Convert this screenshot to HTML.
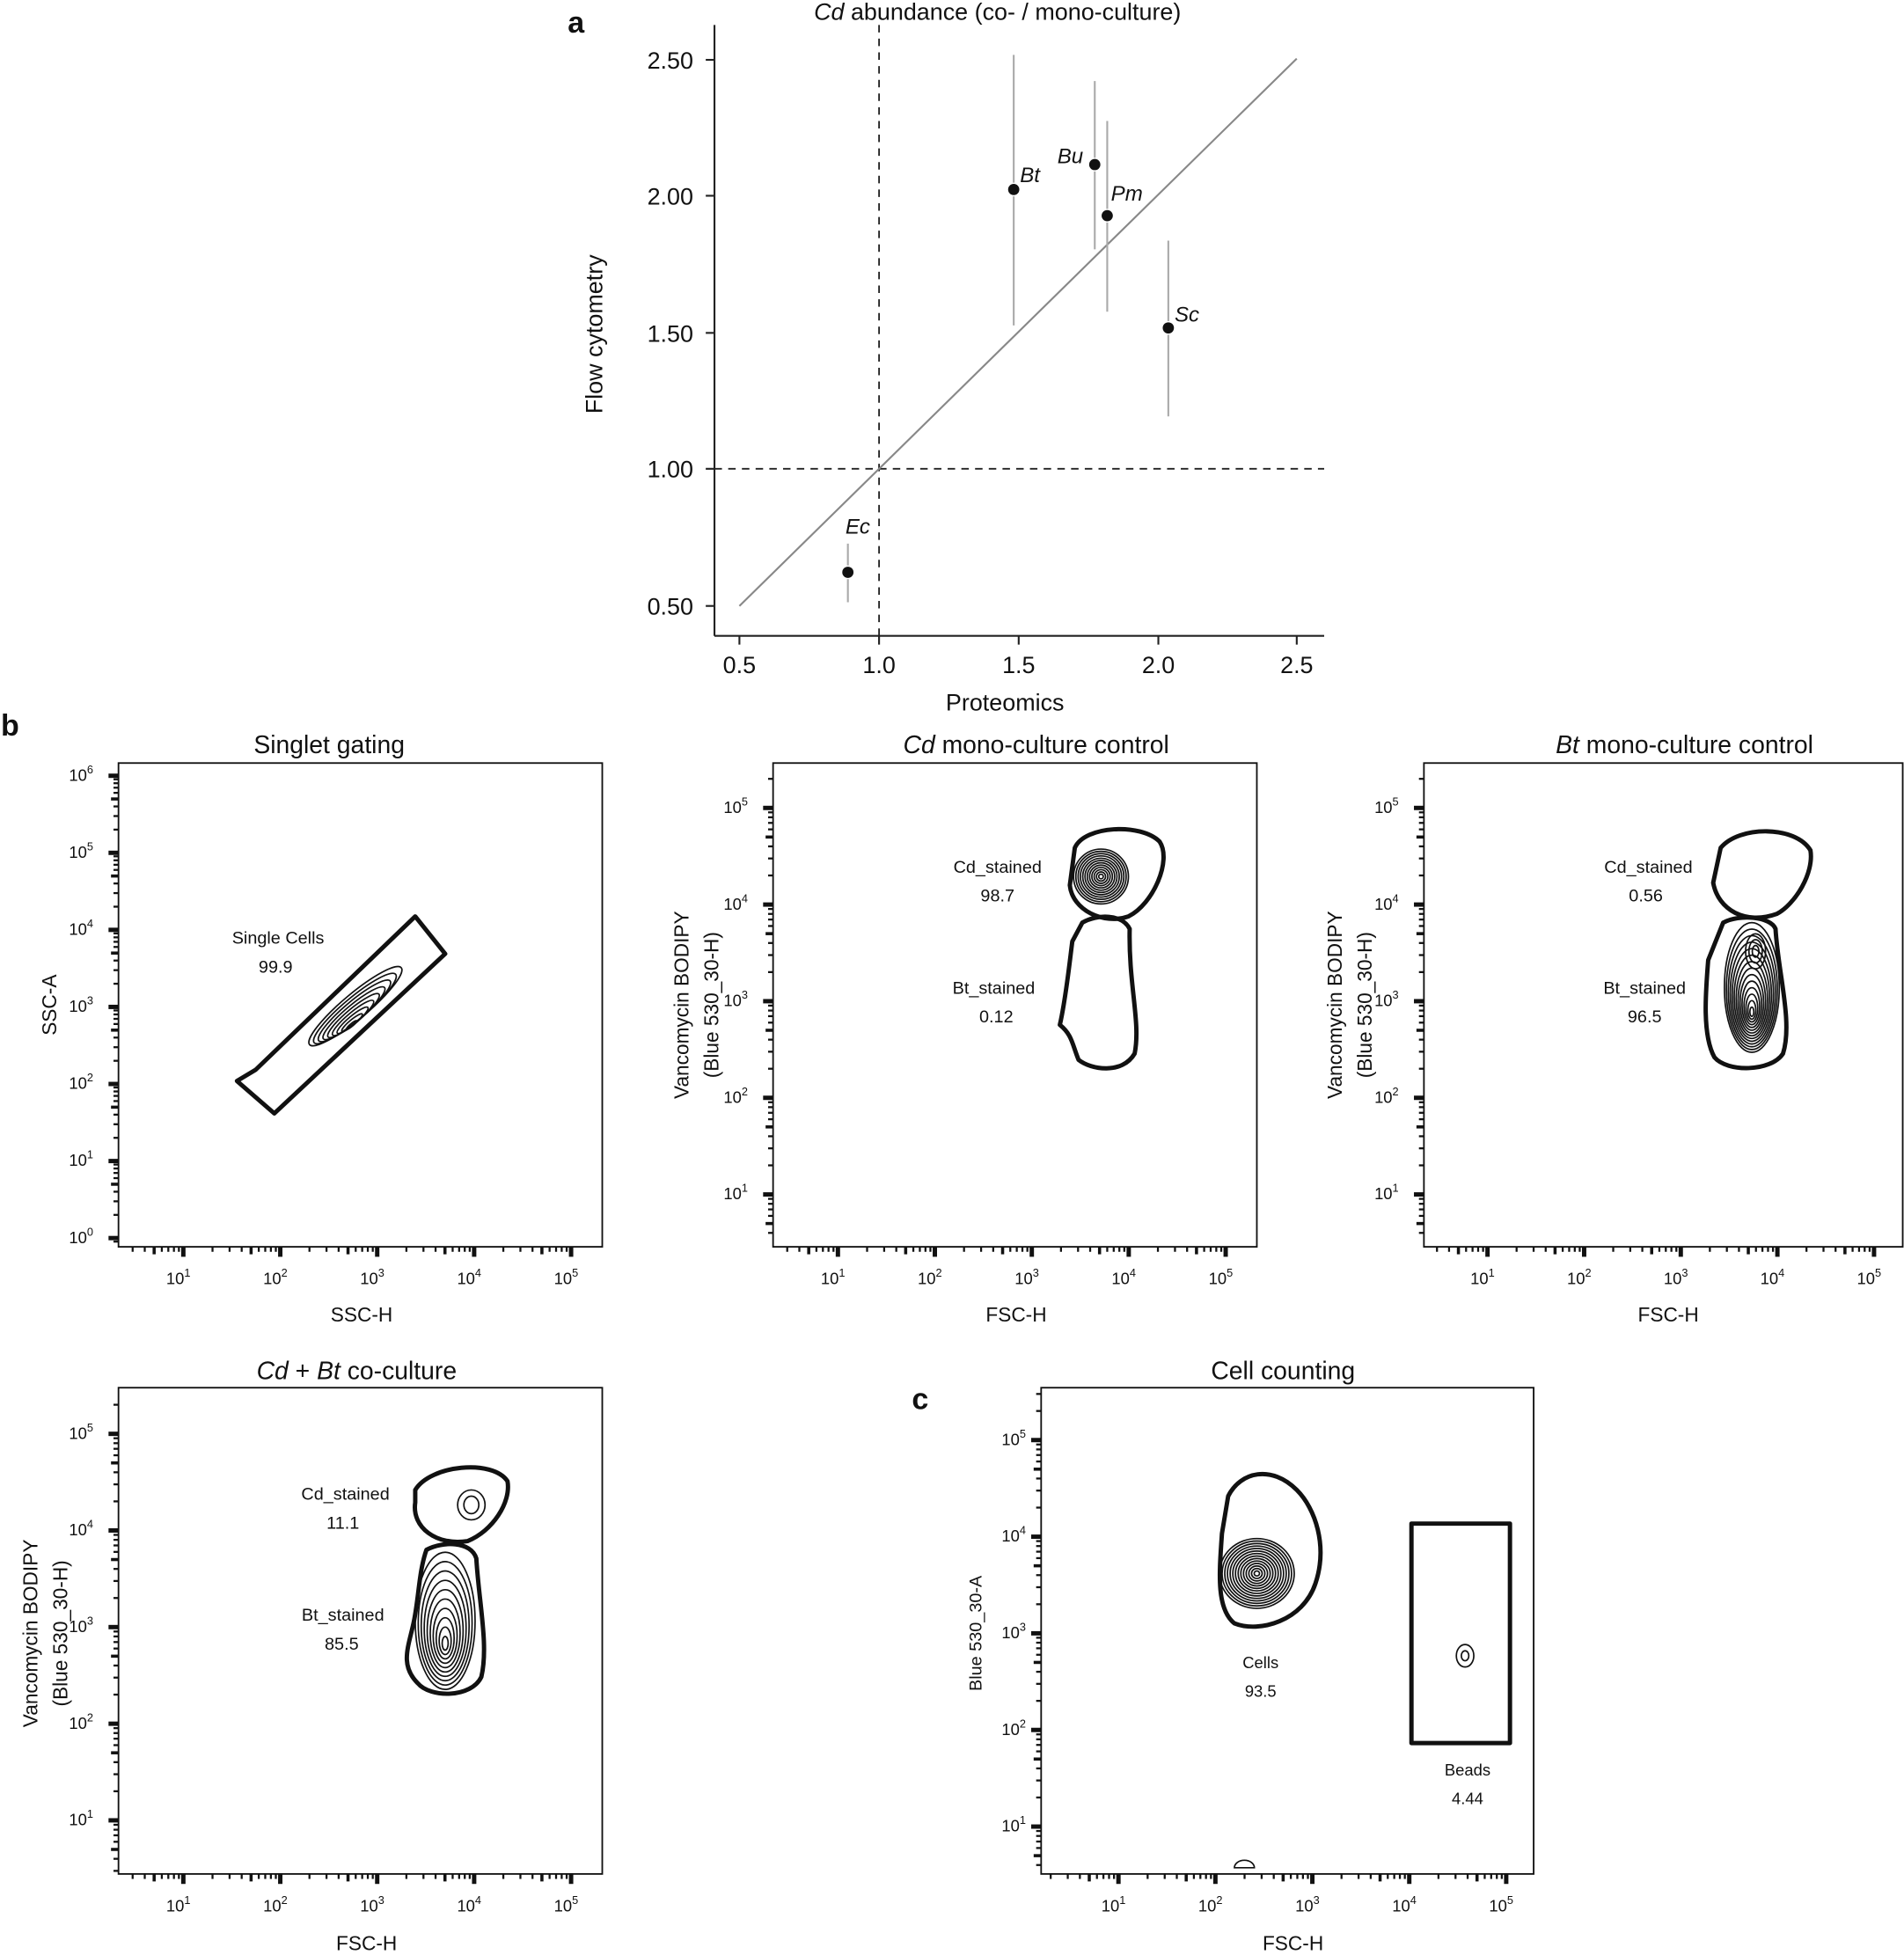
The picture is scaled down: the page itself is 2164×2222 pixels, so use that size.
<!DOCTYPE html>
<html><head><meta charset="utf-8"><style>
html,body{margin:0;padding:0;background:#fff}
svg{display:block}
text{font-family:"Liberation Sans",sans-serif;fill:#111}
</style></head><body>
<svg id="s" width="2164" height="2222" viewBox="0 0 1527 1568" xmlns="http://www.w3.org/2000/svg">
<rect width="1527" height="1568" fill="#fff"/>
<text x="462" y="26" font-size="24" font-weight="bold" text-anchor="middle">a</text>
<text x="800" y="16" font-size="19" text-anchor="middle"><tspan font-style="italic">Cd</tspan> abundance (co- / mono-culture)</text>
<g stroke="#222" stroke-width="1.5" fill="none">
<line x1="573" y1="20" x2="573" y2="510"/>
<line x1="573" y1="510" x2="1062" y2="510"/>
</g>
<g stroke="#222" stroke-width="1.5">
<line x1="593" y1="510" x2="593" y2="517"/><line x1="705" y1="510" x2="705" y2="517"/><line x1="817" y1="510" x2="817" y2="517"/><line x1="929" y1="510" x2="929" y2="517"/><line x1="1040" y1="510" x2="1040" y2="517"/>
<line x1="566" y1="48" x2="573" y2="48"/><line x1="566" y1="157" x2="573" y2="157"/><line x1="566" y1="267" x2="573" y2="267"/><line x1="566" y1="376" x2="573" y2="376"/><line x1="566" y1="486" x2="573" y2="486"/>
</g>
<g font-size="19" text-anchor="middle">
<text x="593" y="540">0.5</text><text x="705" y="540">1.0</text><text x="817" y="540">1.5</text><text x="929" y="540">2.0</text><text x="1040" y="540">2.5</text>
</g>
<g font-size="19" text-anchor="end">
<text x="556" y="55">2.50</text><text x="556" y="164">2.00</text><text x="556" y="274">1.50</text><text x="556" y="383">1.00</text><text x="556" y="493">0.50</text>
</g>
<text x="806" y="570" font-size="19" text-anchor="middle">Proteomics</text>
<text transform="translate(483,268) rotate(-90)" font-size="19" text-anchor="middle">Flow cytometry</text>
<g stroke="#222" stroke-width="1.3" stroke-dasharray="6,5">
<line x1="705" y1="20" x2="705" y2="510"/><line x1="573" y1="376" x2="1062" y2="376"/>
</g>
<line x1="593" y1="486" x2="1040" y2="47" stroke="#888" stroke-width="1.5"/>
<g stroke="#aaa" stroke-width="1.5">
<line x1="813" y1="44" x2="813" y2="261"/><line x1="878" y1="65" x2="878" y2="200"/><line x1="888" y1="97" x2="888" y2="250"/><line x1="937" y1="193" x2="937" y2="334"/><line x1="680" y1="436" x2="680" y2="483"/>
</g>
<g fill="#111" stroke="#fff" stroke-width="1">
<circle cx="813" cy="152" r="5"/><circle cx="878" cy="132" r="5"/><circle cx="888" cy="173" r="5"/><circle cx="937" cy="263" r="5"/><circle cx="680" cy="459" r="5"/>
</g>
<g font-size="17" font-style="italic">
<text x="818" y="146">Bt</text><text x="848" y="131">Bu</text><text x="891" y="161">Pm</text><text x="942" y="258">Sc</text><text x="678" y="428">Ec</text>
</g>
<text x="8" y="590" font-size="24" font-weight="bold" text-anchor="middle">b</text>
<text x="738" y="1130" font-size="24" font-weight="bold" text-anchor="middle">c</text>
<g font-size="20" text-anchor="middle">
<text x="264" y="604">Singlet gating</text>
<text x="831" y="604"><tspan font-style="italic">Cd</tspan> mono-culture control</text>
<text x="1351" y="604"><tspan font-style="italic">Bt</tspan> mono-culture control</text>
<text x="286" y="1106"><tspan font-style="italic">Cd</tspan> + <tspan font-style="italic">Bt</tspan> co-culture</text>
<text x="1029" y="1106">Cell counting</text>
</g>
<g font-size="16" text-anchor="middle">
<text x="290" y="1060">SSC-H</text>
<text transform="translate(45,806) rotate(-90)">SSC-A</text>
<text x="815" y="1060">FSC-H</text>
<text transform="translate(552,806) rotate(-90)">Vancomycin BODIPY</text>
<text transform="translate(576,806) rotate(-90)">(Blue 530_30-H)</text>
<text x="1338" y="1060">FSC-H</text>
<text transform="translate(1076,806) rotate(-90)">Vancomycin BODIPY</text>
<text transform="translate(1100,806) rotate(-90)">(Blue 530_30-H)</text>
<text x="294" y="1564">FSC-H</text>
<text transform="translate(30,1310) rotate(-90)">Vancomycin BODIPY</text>
<text transform="translate(54,1310) rotate(-90)">(Blue 530_30-H)</text>
<text x="1037" y="1564">FSC-H</text>
<text transform="translate(787,1310) rotate(-90)" font-size="14">Blue 530_30-A</text>
</g>
<g font-size="14" text-anchor="middle">
<text x="223" y="757">Single Cells</text><text x="221" y="780">99.9</text>
<text x="800" y="700">Cd_stained</text><text x="800" y="723">98.7</text>
<text x="797" y="797">Bt_stained</text><text x="799" y="820">0.12</text>
<text x="1322" y="700">Cd_stained</text><text x="1320" y="723">0.56</text>
<text x="1319" y="797">Bt_stained</text><text x="1319" y="820">96.5</text>
<text x="277" y="1203">Cd_stained</text><text x="275" y="1226">11.1</text>
<text x="275" y="1300">Bt_stained</text><text x="274" y="1323">85.5</text>
<text x="1011" y="1338" font-size="13">Cells</text><text x="1011" y="1361" font-size="13">93.5</text>
<text x="1177" y="1424" font-size="13">Beads</text><text x="1177" y="1447" font-size="13">4.44</text>
</g>
<g id="dyn"></g>
<g fill="none" stroke="#111" stroke-width="3.5" stroke-linejoin="round">
<path d="M190,867 L205,858 L333,735 L357,765 L220,893 Z"/>
<path d="M862,680 C870,662 915,660 930,675 C940,690 925,725 905,735 C885,742 860,730 858,710 Z"/>
<path d="M868,740 C880,733 900,733 906,745 C905,790 915,820 910,845 C900,862 875,858 865,850 C860,838 860,830 850,822 C855,800 858,770 860,755 Z"/>
<path d="M1380,680 C1395,662 1440,662 1452,682 C1455,700 1440,725 1425,733 C1400,742 1378,730 1374,708 Z"/>
<path d="M1382,740 C1395,733 1420,735 1424,745 C1426,780 1438,820 1430,845 C1420,860 1385,860 1375,848 C1365,830 1368,795 1370,770 Z"/>
<path d="M333,1195 C345,1175 395,1170 407,1188 C410,1205 395,1228 375,1236 C350,1240 330,1225 333,1205 Z"/>
<path d="M342,1243 C355,1236 378,1236 382,1250 C384,1285 392,1320 386,1345 C378,1362 345,1362 335,1350 C320,1335 328,1320 332,1300 C336,1280 336,1260 342,1243 Z"/>
<path d="M985,1200 C995,1180 1020,1175 1040,1195 C1055,1210 1065,1240 1055,1270 C1045,1300 1010,1310 990,1302 C975,1290 978,1260 980,1230 Z"/>
<rect x="1132" y="1222" width="79" height="176"/>
</g>
<g fill="none" stroke="#111" stroke-width="1.2">
<path d="M990,1498 a8,6 0 0 1 16,0 Z"/>
<ellipse cx="1175" cy="1328" rx="7" ry="9"/><ellipse cx="1175" cy="1328" rx="3" ry="4"/>
<ellipse cx="378" cy="1207" rx="11" ry="12"/><ellipse cx="378" cy="1207" rx="6" ry="7"/>
</g>
</svg>
<script>
var NS="http://www.w3.org/2000/svg",g=document.getElementById("dyn");
function el(n,a){var e=document.createElementNS(NS,n);for(var k in a)e.setAttribute(k,a[k]);g.appendChild(e);return e;}
function txt(x,y,p,anchor){var t=el("text",{x:x,y:y,"font-size":13,"text-anchor":anchor});t.textContent="10";var s=document.createElementNS(NS,"tspan");s.setAttribute("dy","-6");s.setAttribute("font-size","9");s.textContent=p;t.appendChild(s);}
function tk(k){return k==1?[8,3.5]:(k==5?[6,2.5]:[4,1.6]);}
function panel(L,T,R,B,xd,xpx0,xs,yd,ypx0,ys,lo){
 lo=lo||30;
 el("rect",{x:L,y:T,width:R-L,height:B-T,fill:"none",stroke:"#111","stroke-width":1.3});
 for(var d=xd[0]-1;d<=xd[1];d++){for(var k=1;k<10;k++){var x=xpx0+(d-xd[0]+Math.log10(k))*xs;if(x<L+2||x>R-2)continue;var t=tk(k);el("line",{x1:x,y1:B,x2:x,y2:B+t[0],stroke:"#111","stroke-width":t[1]});}
  if(d>=xd[0])txt(xpx0+(d-xd[0])*xs-4,B+30,d,"middle");}
 for(var d=yd[0]-1;d<=yd[1];d++){for(var k=1;k<10;k++){var y=ypx0-(d-yd[0]+Math.log10(k))*ys;if(y<T+2||y>B-2)continue;var t=tk(k);el("line",{x1:L,y1:y,x2:L-t[0],y2:y,stroke:"#111","stroke-width":t[1]});}
  if(d>=yd[0])txt(L-lo,ypx0-(d-yd[0])*ys+4,d,"middle");}
}
panel(95,612,483,1000,[1,5],147,77.75,[0,6],993,61.8);
panel(620,612,1008,1000,[1,5],672,77.75,[1,5],958,77.5);
panel(1142,612,1526,1000,[1,5],1193,77.5,[1,5],958,77.5);
panel(95,1113,483,1503,[1,5],147,77.75,[1,5],1460,77.5);
panel(835,1113,1230,1503,[1,5],897,77.75,[1,5],1465,77.5,22);
function cont(cx,cy,rx,ry,rot,n,sx,sy){for(var i=0;i<n;i++){var f=1-i/n;el("ellipse",{cx:cx+(sx||0)*i,cy:cy+(sy||0)*i,rx:Math.max(1,rx*f),ry:Math.max(1,ry*f),fill:"none",stroke:"#111","stroke-width":1.2,transform:"rotate("+rot+" "+cx+" "+cy+")"});}}
cont(285,807,48,10,-40,9,-1.5,1.2);
cont(883,703,22,22,0,12);
cont(1405,792,22,52,0,14,0,1.5);
cont(1408,763,8,14,0,3);
cont(357,1300,24,55,0,10,0,2);
cont(1008,1262,30,28,0,14);
</script>
</body></html>
